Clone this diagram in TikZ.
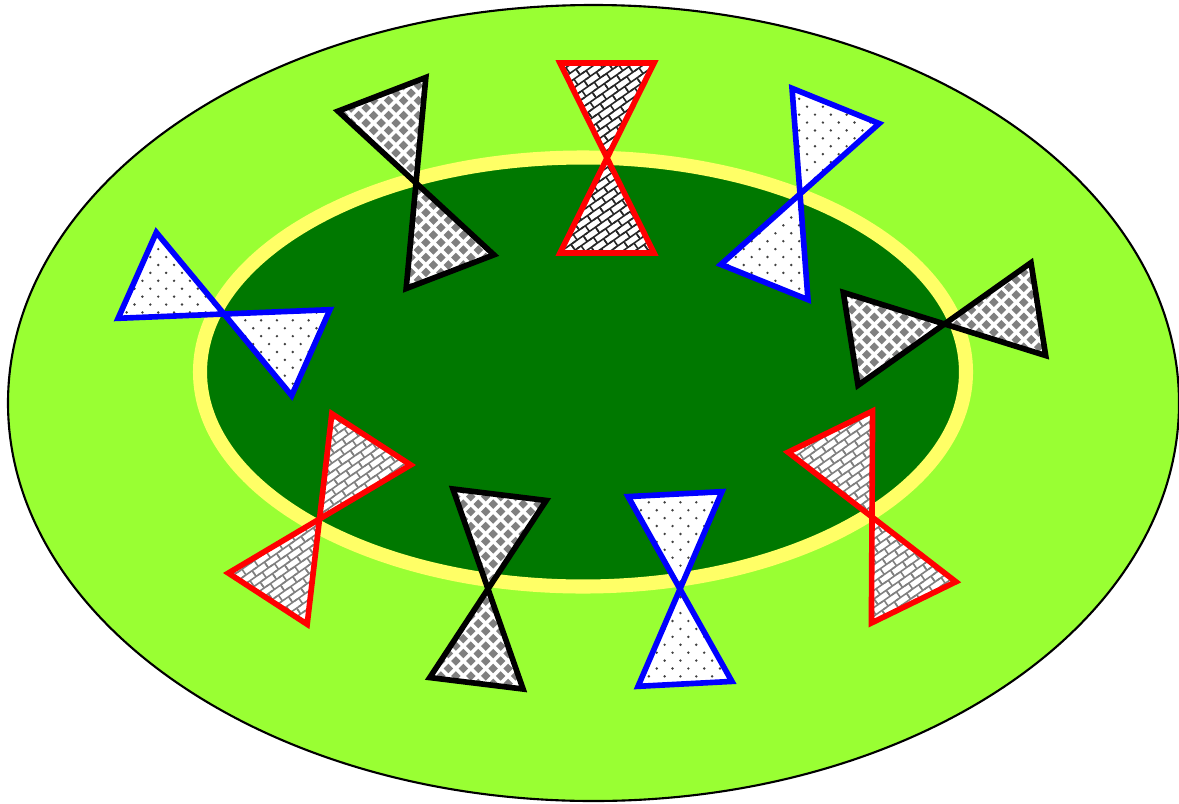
\documentclass[tikz,border=0pt]{standalone}
\usetikzlibrary{patterns,patterns.meta}
\definecolor{lightgr}{HTML}{99FF33}
\definecolor{darkgr}{HTML}{007800}
\definecolor{ringyel}{HTML}{FFFF66}
\definecolor{tieblue}{HTML}{0000FF}
\definecolor{tiered}{HTML}{FF0000}

\tikzdeclarepattern{
  name=bricksr,
  type=uncolored,
  bounding box={(-0.5pt,-0.5pt) and (4.75pt,4.5pt)},
  tile size={(4.25pt,4pt)},
  tile transformation={rotate=35},
  code={
    \draw[line width=0.45pt] (-0.5pt,1pt) -- (4.75pt,1pt) (-0.5pt,3pt) -- (4.75pt,3pt)
      (1pt,1pt) -- (1pt,3pt) (3.125pt,3pt) -- (3.125pt,4.5pt) (3.125pt,-0.5pt) -- (3.125pt,1pt);
  }
}
\tikzdeclarepattern{
  name=diamondchk,
  type=uncolored,
  bounding box={(-1.4pt,-1.4pt) and (3.6pt,3.6pt)},
  tile size={(4.25pt,4.25pt)},
  code={
    \fill (0pt,-1.35pt) -- (1.35pt,0pt) -- (0pt,1.35pt) -- (-1.35pt,0pt) -- cycle;
    \fill (2.125pt,0.775pt) -- (3.475pt,2.125pt) -- (2.125pt,3.475pt) -- (0.775pt,2.125pt) -- cycle;
  }
}
\tikzdeclarepattern{
  name=stagdots,
  type=uncolored,
  bounding box={(-0.5pt,-0.5pt) and (2.75pt,2.75pt)},
  tile size={(4.5pt,4.5pt)},
  code={
    \fill (0pt,0pt) circle[radius=0.38pt];
    \fill (2.25pt,2.25pt) circle[radius=0.38pt];
  }
}

\tikzset{
  tiebase/.style={line width=1.6pt, line join=miter, preaction={fill=white}},
  redtie/.style={tiebase, draw=tiered, pattern=bricksr, pattern color=gray},
  redtiedark/.style={tiebase, draw=tiered, pattern=bricksr, pattern color=black!85},
  blacktie/.style={tiebase, draw=black, pattern=diamondchk, pattern color=gray},
  bluetie/.style={tiebase, draw=tieblue, pattern=stagdots, pattern color=black!75},
}

\newcommand{\bowtiefig}[5]{%
  \begin{scope}[shift={(#1,#2)}, rotate=#3]
    \coordinate (#5) at (0,0);
    \draw[#4] (#5) -- (-47,-95) -- (47,-95) -- cycle;
    \draw[#4] (#5) -- (-47,95) -- (47,95) -- cycle;
  \end{scope}}

\begin{document}
\begin{tikzpicture}[x=0.01cm, y=-0.01cm]
  \useasboundingbox (0,0) rectangle (1179,803);
  % outer ellipse
  \draw[fill=lightgr, draw=black, line width=0.6pt] (593.5,403) ellipse[x radius=585.5, y radius=398];
  % inner ellipse
  \draw[fill=darkgr, draw=ringyel, line width=4pt] (583,372) ellipse[x radius=383, y radius=214.5];
  % bow ties
  \bowtiefig{607}{158}{0}{redtiedark}{t1}
  \bowtiefig{416}{183}{21}{blacktie}{t2}
  \bowtiefig{800}{194}{-22}{bluetie}{t3}
  \bowtiefig{224}{314}{66}{bluetie}{t4}
  \bowtiefig{944.5}{324}{99}{blacktie}{t5}
  \bowtiefig{319.5}{519}{-33}{redtie}{t6}
  \bowtiefig{488}{589}{-7}{blacktie}{t7}
  \bowtiefig{680}{589}{3}{bluetie}{t8}
  \bowtiefig{872}{517}{26}{redtie}{t9}
\end{tikzpicture}
\end{document}
